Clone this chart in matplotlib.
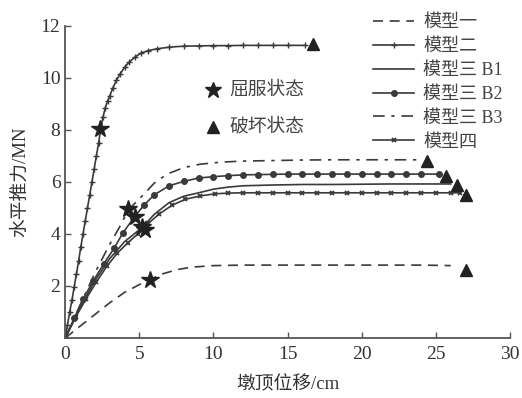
import numpy as np
import matplotlib
matplotlib.use('Agg')
import matplotlib.pyplot as plt

plt.rcParams['font.family'] = ['Liberation Serif', 'Noto Sans CJK SC']
plt.rcParams['axes.unicode_minus'] = False

# model 1 (dashed)
x1 = [0, 1, 2, 3, 4, 5, 5.7, 6.5, 7.5, 8.5, 10, 12, 14, 16, 18, 20, 22, 24, 26]
y1 = [0, 0.45, 0.9, 1.35, 1.75, 2.05, 2.23, 2.45, 2.62, 2.72, 2.78, 2.8, 2.8, 2.8, 2.8, 2.8, 2.8, 2.8, 2.78]

# model 2 (steep)
x2 = [0, 0.15, 0.3, 0.45, 0.6, 0.75, 0.9, 1.05, 1.2, 1.35, 1.5, 1.65, 1.8, 1.95, 2.1, 2.25,
      2.4, 2.55, 2.7, 2.85, 3.0, 3.2, 3.45, 3.7, 4.0, 4.3, 4.7, 5.1, 5.6, 6.2, 7.0, 8.0,
      9, 10, 11, 12, 13, 14, 15, 16.2]
y2 = [0, 0.5, 1.0, 1.45, 1.95, 2.45, 2.95, 3.5, 4.0, 4.5, 5.0, 5.5, 6.0, 6.5, 7.0, 7.5,
      8.05, 8.5, 8.85, 9.1, 9.3, 9.6, 9.9, 10.15, 10.4, 10.6, 10.8, 10.95, 11.05, 11.12, 11.18, 11.22,
      11.23, 11.24, 11.24, 11.25, 11.25, 11.25, 11.25, 11.25]

# model 3 B1 (solid)
x3 = [0, 1, 2, 3, 4, 5.2, 6, 7, 8, 9, 10, 11, 12, 14, 16, 18, 20, 22, 24, 26]
y3 = [0, 1.15, 2.2, 3.05, 3.7, 4.25, 4.75, 5.2, 5.45, 5.58, 5.72, 5.8, 5.85, 5.88, 5.9, 5.9, 5.91, 5.92, 5.92, 5.92]

# model 3 B2 (circles)
x4 = [0, 0.6, 1.2, 1.9, 2.6, 3.3, 3.9, 4.6, 5.3, 6.0, 7.0, 8, 9, 10, 11, 12, 13, 14, 15, 16,
      17, 18, 19, 20, 21, 22, 23, 24, 25.2]
y4 = [0, 0.75, 1.5, 2.2, 2.85, 3.45, 4.05, 4.6, 5.1, 5.5, 5.85, 6.02, 6.15, 6.2, 6.24, 6.27, 6.28, 6.29, 6.3, 6.3,
      6.3, 6.3, 6.3, 6.3, 6.3, 6.3, 6.3, 6.3, 6.3]

# model 3 B3 (dash-dot)
x5 = [0, 1, 2, 3, 3.7, 4.25, 5.26, 6, 6.87, 8, 9.1, 10.5, 12, 14, 16, 18, 20, 22, 23.8]
y5 = [0, 1.25, 2.5, 3.6, 4.3, 4.92, 5.5, 5.95, 6.3, 6.55, 6.68, 6.76, 6.8, 6.82, 6.84, 6.85, 6.85, 6.85, 6.85]

# model 4 (x markers)
x6 = [0, 0.7, 1.4, 2.1, 2.8, 3.5, 4.2, 4.9, 5.6, 6.3, 7.2, 8.1, 9.1, 10.1, 11, 12, 13, 14, 15, 16,
      17, 18, 19, 20, 21, 22, 23, 24, 25, 26, 26.6]
y6 = [0, 0.8, 1.5, 2.15, 2.75, 3.25, 3.65, 4.0, 4.4, 4.75, 5.1, 5.33, 5.46, 5.54, 5.57, 5.58, 5.58, 5.58, 5.58, 5.58,
      5.58, 5.58, 5.58, 5.58, 5.58, 5.58, 5.58, 5.58, 5.58, 5.58, 5.58]

labels = ['模型一', '模型二', '模型三 B1', '模型三 B2', '模型三 B3', '模型四']

# yield points (stars) and failure points (triangles)
yield_x = [5.7, 2.35, 5.2, 4.7, 4.25, 5.35]
yield_y = [2.23, 8.05, 4.25, 4.66, 4.95, 4.15]
fail_x = [27.0, 16.7, 26.4, 25.7, 24.4, 27.0]
fail_y = [2.6, 11.3, 5.88, 6.23, 6.8, 5.5]

c = '#3a3a3a'
fig = plt.figure(figsize=(5.22, 3.98), dpi=100)
ax = fig.add_axes([0.125, 0.151, 0.852, 0.784])

l1, = ax.plot(x1, y1, color=c, lw=1.2, dashes=(6, 4))
l2, = ax.plot(x2, y2, color=c, lw=1.2, marker='+', ms=4, mew=1)
l3, = ax.plot(x3, y3, color=c, lw=1.2)
l4, = ax.plot(x4, y4, color=c, lw=1.2, marker='o', ms=4)
l5, = ax.plot(x5, y5, color=c, lw=1.2, dashes=(7, 4, 2, 4))
l6, = ax.plot(x6, y6, color=c, lw=1.2, marker='x', ms=3.5, mew=1.3)

ax.plot(yield_x, yield_y, ls='none', marker='*', ms=13, color='#222222')
ax.plot(fail_x, fail_y, ls='none', marker='^', ms=8, color='#222222')

ax.legend([l1, l2, l3, l4, l5, l6], labels, loc='upper left',
          bbox_to_anchor=(0.683, 1.005), bbox_transform=fig.transFigure,
          frameon=False, fontsize=13, handlelength=2.3, labelspacing=0.38,
          handletextpad=0.5, labelcolor='#444444')

# state key
ax.plot([213 / 522], [1 - 90 / 398], transform=fig.transFigure, marker='*', ms=12, color='#222222', clip_on=False)
ax.plot([213 / 522], [1 - 127 / 398], transform=fig.transFigure, marker='^', ms=8, color='#222222', clip_on=False)
fig.text(229 / 522, 1 - 90 / 398, '屈服状态', fontsize=13.5, color='#444444', va='center')
fig.text(229 / 522, 1 - 127 / 398, '破坏状态', fontsize=13.5, color='#444444', va='center')

ax.set_xlim(0, 30)
ax.set_ylim(0, 12)
ax.set_xticks([0, 5, 10, 15, 20, 25, 30])
ax.set_yticks([2, 4, 6, 8, 10, 12])
ax.tick_params(direction='in', length=4, width=1, colors='#555555', labelsize=14, labelcolor='#333333')
ax.tick_params(axis='x', pad=6)
for s in ['top', 'right']:
    ax.spines[s].set_visible(False)
for s in ['left', 'bottom']:
    ax.spines[s].set_color('#555555')
    ax.spines[s].set_linewidth(1.3)

ax.set_xlabel('墩顶位移/cm', fontsize=13.5, color='#333333', labelpad=9)
ax.set_ylabel('水平推力/MN', fontsize=13.5, color='#333333', labelpad=8)

fig.savefig('out.png', dpi=100)
